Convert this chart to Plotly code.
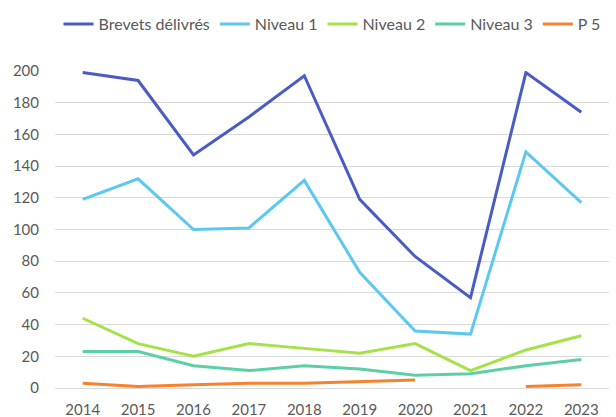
import plotly.graph_objects as go

years = ["2014", "2015", "2016", "2017", "2018", "2019", "2020", "2021", "2022", "2023"]
brevets = [199, 194, 147, 171, 197, 119, 83, 57, 199, 174]
niveau1 = [119, 132, 100, 101, 131, 73, 36, 34, 149, 117]
niveau2 = [44, 28, 20, 28, 25, 22, 28, 11, 24, 33]
niveau3 = [23, 23, 14, 11, 14, 12, 8, 9, 14, 18]
p5 = [3, 1, 2, 3, 3, 4, 5, None, 1, 2]

series = [
    ("Brevets délivrés", brevets, "#4A5CC4"),
    ("Niveau 1", niveau1, "#5CC8F0"),
    ("Niveau 2", niveau2, "#A5E24A"),
    ("Niveau 3", niveau3, "#5DCFA8"),
    ("P 5", p5, "#F7822E"),
]

fig = go.Figure()
for name, vals, col in series:
    fig.add_trace(go.Scatter(
        x=years, y=vals, name=name, mode="lines",
        line=dict(color=col, width=3), connectgaps=False, cliponaxis=False,
    ))

font = "Lato, 'Open Sans', sans-serif"
fig.update_layout(
    width=616, height=417,
    margin=dict(l=55, r=7, t=71, b=29, autoexpand=False),
    paper_bgcolor="white", plot_bgcolor="white",
    font=dict(family=font, size=15, color="#595959"),
    showlegend=True,
    legend=dict(orientation="h", x=0.5, xanchor="center", y=1 - 24 / 417, yanchor="middle",
                yref="container",
                font=dict(size=16, color="#595959"), itemwidth=30),
    xaxis=dict(type="category", range=[-0.5, 9.5], showgrid=False, showline=False,
               ticks="", ticklabelstandoff=11, tickfont=dict(size=15, color="#595959")),
    yaxis=dict(range=[0, 200], dtick=20, showgrid=True, gridcolor="#D9D9D9", gridwidth=1,
               zeroline=True, zerolinecolor="#D9D9D9", zerolinewidth=1, showline=False,
               ticks="", ticklabelstandoff=15, tickfont=dict(size=15, color="#595959")),
)

fig.write_html("out.html", config={"displayModeBar": False},
               post_script="document.body.style.margin='0';document.body.style.overflow='hidden';")
